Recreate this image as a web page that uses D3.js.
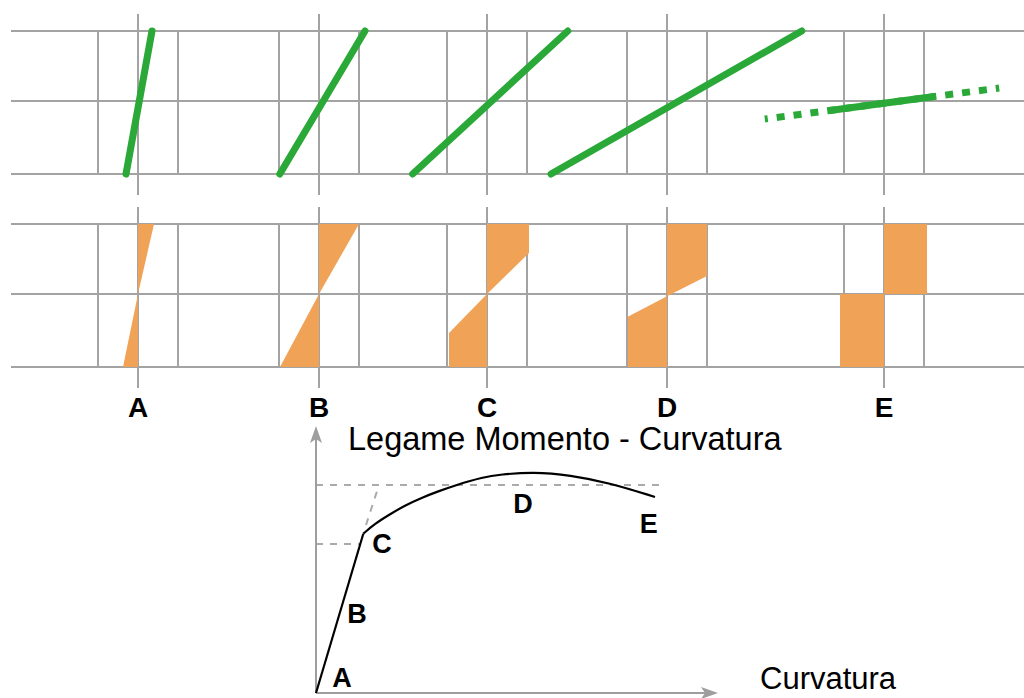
<!DOCTYPE html>
<html>
<head>
<meta charset="utf-8">
<script src="https://cdn.jsdelivr.net/npm/d3@7"></script>
<style>
  body { margin: 0; background: #fff; }
  svg { display: block; font-family: "Liberation Sans", Arial, Helvetica, sans-serif; }
</style>
</head>
<body>
<div id="chart"></div>
<script>
// sections along the moment-curvature path
var sections = ["A", "B", "C", "D", "E"];

// strain diagrams, strain in grid units at bottom (-1) and top (+1) fibre
var strainBottom = [-0.3, -0.98, -1.86, -2.9];
var strainTop = [0.35, 1.15, 2.02, 3.37];
// section E: [strain, level] pairs, dashed full line and solid part
var strainEDashed = [[-2.98, -0.247], [2.88, 0.186]];
var strainESolid = [[-1.4, -0.133], [1.26, 0.064]];

// stress blocks, [stress, level] polygons per section
var stressA = [[[0, 1], [0.4, 1], [0, 0]], [[0, 0], [0, -1], [-0.375, -1]]];
var stressB = [[[0, 1], [1, 1], [0, 0]], [[0, 0], [0, -1], [-0.975, -1]]];
var stressC = [[[0, 1], [1.05, 1], [1.05, 0.586], [0, 0]], [[0, 0], [-0.95, -0.534], [-0.95, -1], [0, -1]]];
var stressD = [[[0, 1], [1, 1], [1, 0.257], [0, -0.03]], [[0, -0.03], [-0.98, -0.31], [-0.98, -1], [0, -1]]];
var stressE = [[[0, 1], [1.075, 1], [1.075, 0], [0, 0]], [[0, 0], [-1.1, 0], [-1.1, -1], [0, -1]]];
var stressBlocks = [stressA, stressB, stressC, stressD, stressE];

// moment - curvature diagram
var elasticCurv = [0, 1.177];
var elasticMom = [0, 4.773];
var postCurv = [1.177, 1.468, 1.799, 2.214, 2.629, 3.042, 3.458, 4.162, 4.577, 5.398, 6.318, 7.313, 8.433];
var postMom = [4.773, 5.073, 5.324, 5.624, 5.852, 6.043, 6.223, 6.472, 6.547, 6.622, 6.532, 6.292, 5.873];
var yieldMom = 6.232, yieldCurvEnd = 8.682;
var crackMom = 4.464, crackCurvEnd = 1.095;
var idealCurv = [1.244, 1.567];
var idealMom = [5.034, 6.232];
var pointCurv = [0.647, 1.02, 1.64, 5.15, 8.28];
var pointMom = [0.18, 2.1, 4.19, 5.39, 4.79];

var width = 1024, height = 698;
var grey = "#a3a3a3", green = "#2aa939", orange = "#f0a256";

var svg = d3.select("#chart")
    .append("svg")
    .attr("width", width)
    .attr("height", height);

var sx = d3.scaleOrdinal().domain(sections).range([138, 319, 487, 667, 884]);
var unit = d3.scaleLinear().domain([-1, 1]).range([-40, 40]);
var yStrain = d3.scaleLinear().domain([-1, 0, 1]).range([174, 101, 31]);
var yStress = d3.scaleLinear().domain([-1, 0, 1]).range([367, 294, 224]);

// grid for both panels
function drawGrid(yScale) {
    var g = svg.append("g");
    [-1, 0, 1].forEach(function(l) {
        g.append("line")
            .attr("x1", 11).attr("x2", width)
            .attr("y1", yScale(l)).attr("y2", yScale(l))
            .attr("stroke", grey).attr("stroke-width", 2);
    });
    sections.forEach(function(s) {
        [-1, 1].forEach(function(u) {
            g.append("line")
                .attr("x1", sx(s) + unit(u)).attr("x2", sx(s) + unit(u))
                .attr("y1", yScale(1)).attr("y2", yScale(-1))
                .attr("stroke", grey).attr("stroke-width", 2);
        });
        g.append("line")
            .attr("x1", sx(s)).attr("x2", sx(s))
            .attr("y1", yScale(1) - 17).attr("y2", yScale(-1) + 21)
            .attr("stroke", grey).attr("stroke-width", 2);
    });
}
drawGrid(yStrain);
drawGrid(yStress);

// strain lines
var strainLine = function(s) {
    return d3.line()
        .x(function(d) { return sx(s) + unit(d[0]); })
        .y(function(d) { return yStrain(d[1]); });
};
strainBottom.forEach(function(b, i) {
    svg.append("path")
        .attr("d", strainLine(sections[i])([[b, -1], [strainTop[i], 1]]))
        .attr("stroke", green).attr("stroke-width", 7)
        .attr("stroke-linecap", "round").attr("fill", "none");
});
svg.append("path")
    .attr("d", strainLine("E")(strainEDashed))
    .attr("stroke", green).attr("stroke-width", 7)
    .attr("stroke-dasharray", "8,9").attr("stroke-dashoffset", 5)
    .attr("fill", "none");
svg.append("path")
    .attr("d", strainLine("E")(strainESolid))
    .attr("stroke", green).attr("stroke-width", 7)
    .attr("fill", "none");

// stress blocks
stressBlocks.forEach(function(polys, i) {
    var s = sections[i];
    var line = d3.line()
        .x(function(d) { return sx(s) + unit(d[0]); })
        .y(function(d) { return yStress(d[1]); });
    polys.forEach(function(p) {
        svg.append("path")
            .attr("d", line(p) + "Z")
            .attr("fill", orange);
    });
});

// section labels
svg.selectAll(".seclabel")
    .data(sections)
    .enter()
    .append("text")
    .attr("x", function(d) { return sx(d); })
    .attr("y", 417)
    .attr("text-anchor", "middle")
    .style("font-size", "28px")
    .style("font-weight", "bold")
    .text(function(d) { return d; });

// moment - curvature
var x = d3.scaleLinear().domain([0, 10]).range([316, 718]);
var y = d3.scaleLinear().domain([0, 8]).range([693, 426]);

var dashed = svg.append("g")
    .attr("stroke", "#aaaaaa").attr("stroke-width", 2)
    .attr("stroke-dasharray", "7,7").attr("fill", "none");
dashed.append("line")
    .attr("x1", x(0)).attr("x2", x(yieldCurvEnd))
    .attr("y1", y(yieldMom)).attr("y2", y(yieldMom));
dashed.append("line")
    .attr("x1", x(0)).attr("x2", x(crackCurvEnd))
    .attr("y1", y(crackMom)).attr("y2", y(crackMom));
dashed.append("line")
    .attr("x1", x(idealCurv[0])).attr("x2", x(idealCurv[1]))
    .attr("y1", y(idealMom[0])).attr("y2", y(idealMom[1]));

// axes with arrows
svg.append("line")
    .attr("x1", x(0)).attr("x2", x(0))
    .attr("y1", y(0)).attr("y2", y(8) + 10)
    .attr("stroke", "#9e9e9e").attr("stroke-width", 2);
svg.append("line")
    .attr("x1", x(0)).attr("x2", x(10) - 10)
    .attr("y1", y(0)).attr("y2", y(0))
    .attr("stroke", "#9e9e9e").attr("stroke-width", 2);
svg.append("path")
    .attr("d", "M" + x(0) + "," + y(8) + "l-6,17l6,-4l6,4Z")
    .attr("fill", "#9e9e9e");
svg.append("path")
    .attr("d", "M" + x(10) + "," + y(0) + "l-17,-6l4,6l-4,6Z")
    .attr("fill", "#9e9e9e");

var mcLine = d3.line()
    .x(function(d) { return x(d[0]); })
    .y(function(d) { return y(d[1]); });
svg.append("path")
    .attr("d", mcLine(d3.zip(elasticCurv, elasticMom)))
    .attr("stroke", "#000").attr("stroke-width", 2.2).attr("fill", "none");
svg.append("path")
    .attr("d", mcLine.curve(d3.curveBasis)(d3.zip(postCurv, postMom)))
    .attr("stroke", "#000").attr("stroke-width", 2.2).attr("fill", "none");

svg.selectAll(".ptlabel")
    .data(sections)
    .enter()
    .append("text")
    .attr("x", function(d, i) { return x(pointCurv[i]); })
    .attr("y", function(d, i) { return y(pointMom[i]); })
    .attr("text-anchor", "middle")
    .style("font-size", "27px")
    .style("font-weight", "bold")
    .text(function(d) { return d; });

svg.append("text")
    .attr("x", 348)
    .attr("y", 450)
    .style("font-size", "32.5px")
    .text("Legame Momento - Curvatura");

svg.append("text")
    .attr("x", 760)
    .attr("y", 689)
    .style("font-size", "31px")
    .text("Curvatura");
</script>
</body>
</html>
